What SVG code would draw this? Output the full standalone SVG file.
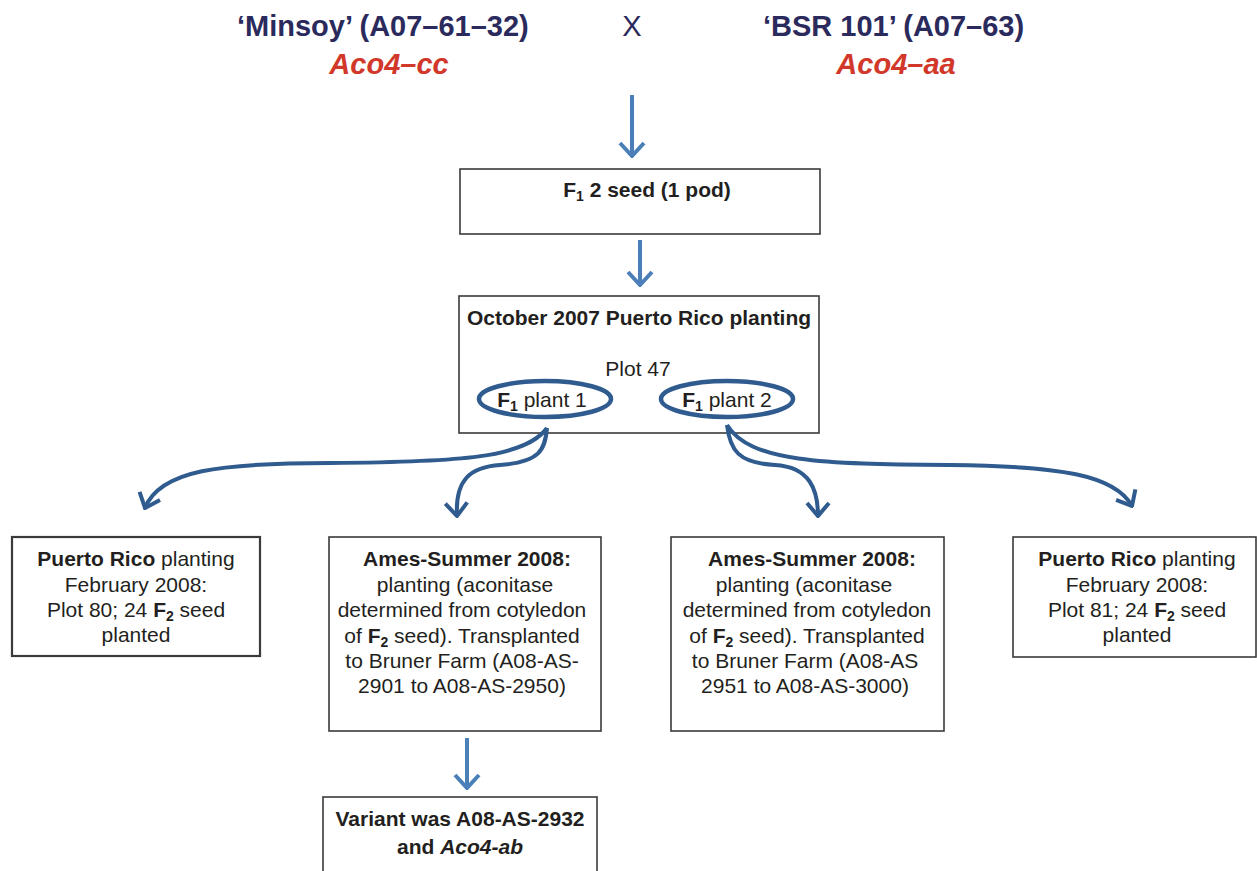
<svg xmlns="http://www.w3.org/2000/svg" width="1257" height="871" viewBox="0 0 1257 871">
<defs>
<style>
.box{fill:#fff;stroke:#3a3a3a;stroke-width:1.6}
.t{font-family:"Liberation Sans",Arial,sans-serif;font-size:21px;fill:#231f20;text-anchor:middle}
.b{font-weight:bold}
.title{font-family:"Liberation Sans",Arial,sans-serif;font-size:29px;font-weight:bold;fill:#2b2a5c}
.red{font-family:"Liberation Sans",Arial,sans-serif;font-size:29px;font-weight:bold;font-style:italic;fill:#d1382a;text-anchor:middle}
.la{fill:none;stroke:#4a7fb8;stroke-width:4}
.da{fill:none;stroke:#2f5b8e;stroke-width:4}
.ell{fill:none;stroke:#2f5b8e;stroke-width:4.5}
</style>
<marker id="hl" viewBox="-16 -14 18 28" markerWidth="18" markerHeight="28" markerUnits="userSpaceOnUse" orient="auto" refX="0" refY="0"><path d="M-13,-12 L0,0 L-13,12" fill="none" stroke="#4a7fb8" stroke-width="4"/></marker>
<marker id="hd" viewBox="-16 -14 18 28" markerWidth="18" markerHeight="28" markerUnits="userSpaceOnUse" orient="auto" refX="0" refY="0"><path d="M-13,-11 L0,0 L-13,11" fill="none" stroke="#2f5b8e" stroke-width="4"/></marker>
</defs>
<rect width="1257" height="871" fill="#fff"/>

<g id="parents">
<text class="title" x="237" y="36">‘Minsoy’ (A07–61–32)</text>
<text x="632" y="36" font-family="Liberation Sans, Arial, sans-serif" font-size="29" fill="#2b2a5c" text-anchor="middle">X</text>
<text class="title" x="763" y="36">‘BSR 101’ (A07–63)</text>
<text class="red" x="389" y="74">Aco4–cc</text>
<text class="red" x="896" y="74">Aco4–aa</text>
</g>

<g id="f1seed">
<rect class="box" x="460" y="169" width="360" height="65"/>
<text class="t b" x="647" y="197">F<tspan font-size="14" dy="4">1</tspan><tspan dy="-4"> 2 seed (1 pod)</tspan></text>
</g>

<g id="oct2007">
<rect class="box" x="459" y="296" width="360" height="137"/>
<text class="t b" x="639" y="325">October 2007 Puerto Rico planting</text>
<text class="t" x="638" y="376">Plot 47</text>
<ellipse class="ell" cx="545" cy="399" rx="66" ry="18"/>
<ellipse class="ell" cx="727" cy="399" rx="66" ry="18"/>
<text class="t" x="542" y="407"><tspan class="b">F</tspan><tspan class="b" font-size="14" dy="4">1</tspan><tspan dy="-4"> plant 1</tspan></text>
<text class="t" x="727" y="407"><tspan class="b">F</tspan><tspan class="b" font-size="14" dy="4">1</tspan><tspan dy="-4"> plant 2</tspan></text>
</g>

<g id="pr80">
<rect class="box" x="12" y="537" width="248" height="119" style="stroke-width:2.2"/>
<text class="t" x="136" y="566"><tspan class="b">Puerto Rico</tspan> planting</text>
<text class="t" x="136" y="592">February 2008:</text>
<text class="t" x="136" y="617">Plot 80; 24 <tspan class="b">F</tspan><tspan class="b" font-size="14" dy="4">2</tspan><tspan dy="-4"> seed</tspan></text>
<text class="t" x="136" y="642">planted</text>
</g>

<g id="amesA">
<rect class="box" x="329" y="537" width="272" height="194"/>
<text class="t b" x="467" y="566">Ames-Summer 2008:</text>
<text class="t" x="465" y="592">planting (aconitase</text>
<text class="t" x="462" y="617">determined from cotyledon</text>
<text class="t" x="462" y="643">of <tspan class="b">F</tspan><tspan class="b" font-size="14" dy="4">2</tspan><tspan dy="-4"> seed). Transplanted</tspan></text>
<text class="t" x="462" y="668">to Bruner Farm (A08-AS-</text>
<text class="t" x="462" y="693">2901 to A08-AS-2950)</text>
</g>

<g id="amesB">
<rect class="box" x="671" y="537" width="273" height="194"/>
<text class="t b" x="812" y="566">Ames-Summer 2008:</text>
<text class="t" x="804" y="592">planting (aconitase</text>
<text class="t" x="807" y="617">determined from cotyledon</text>
<text class="t" x="807" y="643">of <tspan class="b">F</tspan><tspan class="b" font-size="14" dy="4">2</tspan><tspan dy="-4"> seed). Transplanted</tspan></text>
<text class="t" x="805" y="668">to Bruner Farm (A08-AS</text>
<text class="t" x="805" y="693">2951 to A08-AS-3000)</text>
</g>

<g id="pr81">
<rect class="box" x="1013" y="537" width="243" height="120"/>
<text class="t" x="1137" y="566"><tspan class="b">Puerto Rico</tspan> planting</text>
<text class="t" x="1137" y="592">February 2008:</text>
<text class="t" x="1137" y="617">Plot 81; 24 <tspan class="b">F</tspan><tspan class="b" font-size="14" dy="4">2</tspan><tspan dy="-4"> seed</tspan></text>
<text class="t" x="1137" y="642">planted</text>
</g>

<g id="variant">
<rect class="box" x="323" y="797" width="274" height="90"/>
<text class="t b" x="460" y="826">Variant was A08-AS-2932</text>
<text class="t b" x="460" y="854">and <tspan font-style="italic">Aco4-ab</tspan></text>
</g>

<g id="connectors">
<path class="la" d="M632,95 L632,156" marker-end="url(#hl)"/>
<path class="la" d="M640,240 L640,285" marker-end="url(#hl)"/>
<path class="la" d="M467,738 L467,788" marker-end="url(#hl)"/>
<path class="da" d="M547,428 C525,458 460,462 330,463 C220,463 160,470 145,508" marker-end="url(#hd)"/>
<path class="da" d="M547,428 C545,450 540,462 500,465 C470,467 455,480 457,516" marker-end="url(#hd)"/>
<path class="da" d="M727,425 C730,450 738,463 775,465 C810,467 818,490 818,516" marker-end="url(#hd)"/>
<path class="da" d="M727,425 C750,462 820,464 950,465 C1060,466 1115,475 1132,506" marker-end="url(#hd)"/>
</g>
</svg>
